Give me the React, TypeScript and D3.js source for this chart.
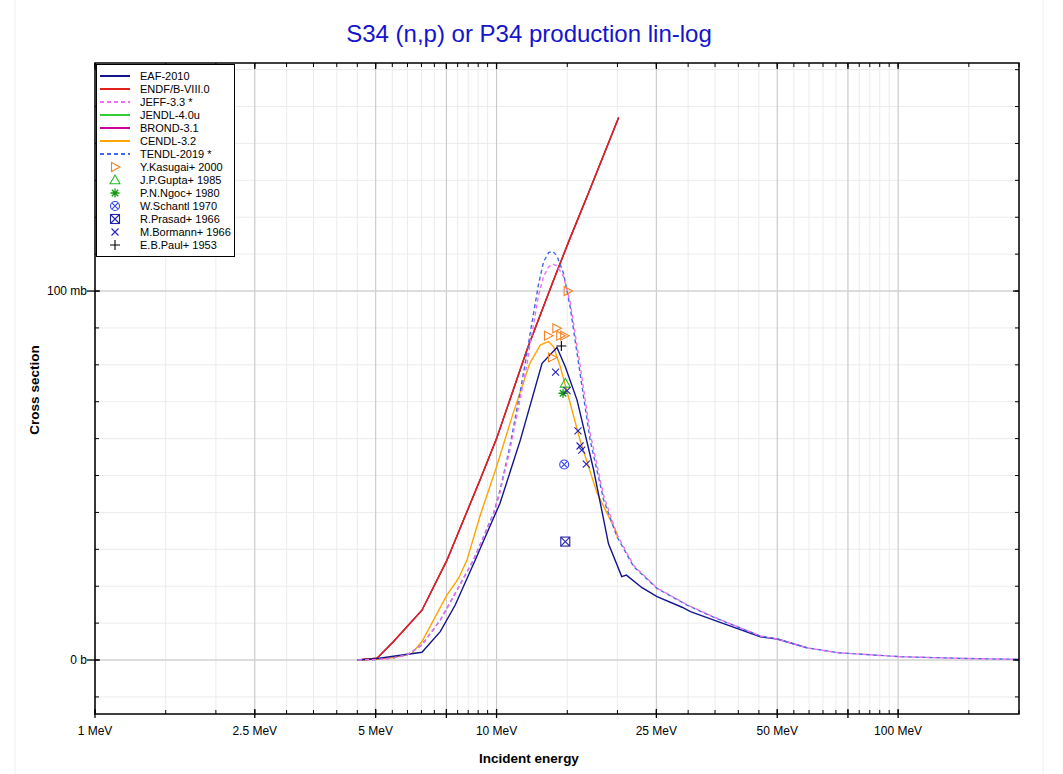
import * as React from "react";
import * as d3 from "d3";

// ---- data (energy in MeV, cross section in mb) ----
const endfE = [4.52, 5.04, 5.54, 6.52, 7.52, 9.11, 10, 11.9, 13.87, 15.2, 17, 20.14];
const endfXS = [0, 0.5, 5, 13.5, 27, 49, 60, 84, 103, 114, 127, 147];

const eafE = [4.5, 5.0, 6.52, 7.24, 7.89, 8.85, 9.11, 10.2, 11.46, 12.98, 14.14, 14.83, 15.86, 17.45, 19.0, 20.5, 21.05, 23.03, 25.1, 28.97, 30.4, 37.5, 45.4, 50, 59.4];
const eafXS = [0, 0.35, 2.1, 7.7, 14.9, 27.1, 30.3, 42.5, 59.6, 80.4, 84.7, 79.5, 70.5, 51.5, 31.5, 22.6, 23.0, 19.6, 17.2, 14.3, 13.1, 9.5, 6.3, 5.7, 3.3];

const tendlE = [4.52, 5.0, 5.5, 5.98, 6.52, 7.24, 7.81, 8.76, 9.83, 10.2, 10.8, 11.46, 11.9, 12.1, 12.73, 13.1, 13.48, 13.8, 14.14, 14.68, 15.25, 16.14, 17.1, 18.48, 19.95, 21.95, 25.1, 29.8, 34.7, 45.4, 50, 59.4, 70.5, 101, 150, 200];
const tendlXS = [0, 0.1, 0.5, 1.36, 4.1, 10.8, 17.2, 27.1, 39.8, 46, 58, 73, 83, 88, 102, 108, 110.4, 110.8, 109.5, 104.8, 95.7, 77.7, 59.6, 43.4, 33.4, 25.3, 19.4, 14.9, 11.6, 6.5, 5.7, 3.3, 2.0, 0.9, 0.4, 0.2];

const jeffE = [4.52, 5.0, 5.5, 5.98, 6.52, 7.24, 7.81, 8.76, 9.83, 10.2, 10.8, 11.46, 11.9, 12.1, 12.73, 13.1, 13.48, 13.8, 14.14, 14.68, 15.25, 16.14, 17.1, 18.48, 19.95, 21.95, 25.1, 29.8, 34.7, 45.4, 50, 59.4, 70.5, 101, 150, 200];
const jeffXS = [0, 0.1, 0.5, 1.36, 4.1, 10.8, 17.2, 27.1, 39.5, 45.5, 57, 71, 80, 85, 99, 104, 106.5, 107.3, 106.8, 104, 97, 80, 61.5, 44.5, 34, 25.6, 19.5, 15, 11.7, 6.5, 5.7, 3.3, 2.0, 0.9, 0.4, 0.2];

const cendlE = [4.52, 5.04, 5.5, 6.15, 6.52, 7.52, 8.04, 8.44, 9.11, 10.0, 11.0, 12.1, 12.86, 13.48, 13.87, 14.41, 15.25, 16.14, 17.8, 19.95, 20.0];
const cendlXS = [0, 0.2, 0.6, 1.8, 5.0, 17.6, 22.1, 27.1, 39.3, 52.4, 66.9, 80.4, 85.4, 86.3, 84.9, 79.5, 69.6, 59.6, 45.2, 34.3, 33];

const kasugaiE = [15.03, 14.09, 13.43, 14.41, 14.74, 13.74];
const kasugaiXS = [100.0, 89.9, 87.9, 87.9, 87.9, 82.0];
const guptaE = [14.83];
const guptaXS = [75.0];
const ngocE = [14.64];
const ngocXS = [72.3];
const schantlE = [14.74];
const schantlXS = [53.0];
const prasadE = [14.83];
const prasadXS = [32.1];
const bormannE = [14.03, 14.98, 15.95, 16.14, 16.3, 16.73];
const bormannXS = [78.0, 73.0, 62.1, 58.0, 56.9, 53.1];
const paulE = [14.5];
const paulXS = [85.1];

const xMajor = [1, 2.5, 5, 7.5, 10, 25, 50, 75, 100];
const xLabeled = [1, 2.5, 5, 10, 25, 50, 100];
const yLabels: [number, string][] = [[0, "0 b"], [100, "100 mb"]];

const FONT = "'Liberation Sans', Arial, sans-serif";
const W = 1063;
const H = 774;
const L = 95, R = 1019, T = 63, B = 714;

const x = d3.scaleLog().domain([1, 200]).range([L, R]);
const y = d3.scaleLinear().domain([-14.63, 161.8]).range([B, T]);

const xMinor: number[] = [];
[1, 10, 100].forEach((d) => {
  d3.range(1, 10, 0.5).forEach((m) => {
    const v = m * d;
    if (v <= 200) xMinor.push(v);
  });
});
const yMinor = d3.range(-10, 161, 10);

type Pt = [number, number];
const zip = (a: number[], b: number[]): Pt[] => a.map((e, i) => [e, b[i]]);
const line = d3.line<Pt>().x((d) => x(d[0])).y((d) => y(d[1]));

function Marker({ kind, cx, cy, color }: { kind: string; cx: number; cy: number; color: string }) {
  const sw = 1.1;
  if (kind === "triR")
    return <path d={`M${cx - 3.5},${cy - 4.5}L${cx + 5},${cy}L${cx - 3.5},${cy + 4.5}Z`} fill="none" stroke={color} strokeWidth={sw} />;
  if (kind === "triU")
    return <path d={`M${cx},${cy - 5}L${cx + 5},${cy + 3.8}L${cx - 5},${cy + 3.8}Z`} fill="none" stroke={color} strokeWidth={sw} />;
  if (kind === "star") {
    const r = 4.5, q = 3.2;
    return (
      <path d={`M${cx - r},${cy}H${cx + r}M${cx},${cy - r}V${cy + r}M${cx - q},${cy - q}L${cx + q},${cy + q}M${cx - q},${cy + q}L${cx + q},${cy - q}`} stroke={color} strokeWidth={1.3} />
    );
  }
  if (kind === "circX") {
    const q = 3.1;
    return (
      <g stroke={color} strokeWidth={sw} fill="none">
        <circle cx={cx} cy={cy} r={4.5} />
        <path d={`M${cx - q},${cy - q}L${cx + q},${cy + q}M${cx - q},${cy + q}L${cx + q},${cy - q}`} />
      </g>
    );
  }
  if (kind === "boxX") {
    const s = 4.5;
    return (
      <g stroke={color} strokeWidth={sw} fill="none">
        <rect x={cx - s} y={cy - s} width={2 * s} height={2 * s} />
        <path d={`M${cx - s},${cy - s}L${cx + s},${cy + s}M${cx - s},${cy + s}L${cx + s},${cy - s}`} />
      </g>
    );
  }
  if (kind === "x") {
    const q = 3.5;
    return <path d={`M${cx - q},${cy - q}L${cx + q},${cy + q}M${cx - q},${cy + q}L${cx + q},${cy - q}`} stroke={color} strokeWidth={sw} />;
  }
  const r = 5;
  return <path d={`M${cx - r},${cy}H${cx + r}M${cx},${cy - r}V${cy + r}`} stroke={color} strokeWidth={sw} />;
}

const curves = [
  { name: "EAF-2010", color: "#14148c", dash: "", e: eafE, v: eafXS },
  { name: "ENDF/B-VIII.0", color: "#e3201c", dash: "", e: endfE, v: endfXS },
  { name: "JEFF-3.3 *", color: "#f070f0", dash: "4,3", e: jeffE, v: jeffXS },
  { name: "JENDL-4.0u", color: "#33cc33", dash: "", e: endfE, v: endfXS },
  { name: "BROND-3.1", color: "#cc0099", dash: "", e: endfE, v: endfXS },
  { name: "CENDL-3.2", color: "#ffa500", dash: "", e: cendlE, v: cendlXS },
  { name: "TENDL-2019 *", color: "#4169e1", dash: "4,3", e: tendlE, v: tendlXS },
];

const exps = [
  { name: "Y.Kasugai+ 2000", color: "#f58220", kind: "triR", e: kasugaiE, v: kasugaiXS },
  { name: "J.P.Gupta+ 1985", color: "#22bb22", kind: "triU", e: guptaE, v: guptaXS },
  { name: "P.N.Ngoc+ 1980", color: "#119911", kind: "star", e: ngocE, v: ngocXS },
  { name: "W.Schantl 1970", color: "#3344ee", kind: "circX", e: schantlE, v: schantlXS },
  { name: "R.Prasad+ 1966", color: "#2222aa", kind: "boxX", e: prasadE, v: prasadXS },
  { name: "M.Bormann+ 1966", color: "#2222bb", kind: "x", e: bormannE, v: bormannXS },
  { name: "E.B.Paul+ 1953", color: "#000000", kind: "plus", e: paulE, v: paulXS },
];

// draw order: underlying duplicates first, ENDF on top of them
const drawOrder = ["JENDL-4.0u", "BROND-3.1", "ENDF/B-VIII.0", "CENDL-3.2", "EAF-2010", "TENDL-2019 *", "JEFF-3.3 *"];

export default function App() {
  const rowY = (i: number) => 76 + i * 13;
  return (
    <svg width={W} height={H} style={{ position: "absolute", left: 0, top: 0, background: "#fff" }} fontFamily={FONT}>
      <rect x={0} y={0} width={W} height={H} fill="#fff" />
      <line x1={15} x2={15} y1={0} y2={H} stroke="#f0f0f0" />
      <line x1={1043} x2={1043} y1={0} y2={H} stroke="#f0f0f0" />
      <defs>
        <clipPath id="plotclip">
          <rect x={L} y={T} width={R - L} height={B - T} />
        </clipPath>
      </defs>

      {/* grid */}
      {xMinor.map((v) => (
        <line key={"gx" + v} x1={x(v)} x2={x(v)} y1={T} y2={B} stroke="#ececec" />
      ))}
      {yMinor.map((v) => (
        <line key={"gy" + v} x1={L} x2={R} y1={y(v)} y2={y(v)} stroke="#ececec" />
      ))}
      {xMajor.map((v) => (
        <line key={"GX" + v} x1={x(v)} x2={x(v)} y1={T} y2={B} stroke="#c8c8c8" />
      ))}
      {yLabels.map(([v]) => (
        <line key={"GY" + v} x1={L} x2={R} y1={y(v)} y2={y(v)} stroke="#d4d4d4" strokeWidth={1.6} />
      ))}

      {/* curves */}
      <g clipPath="url(#plotclip)" fill="none">
        {drawOrder.map((n) => {
          const c = curves.find((k) => k.name === n)!;
          return (
            <path key={n} d={line(zip(c.e, c.v)) || ""} stroke={c.color} strokeWidth={1.4} strokeDasharray={c.dash || undefined} />
          );
        })}
      </g>

      {/* experimental points */}
      {exps.map((s) =>
        s.e.map((e, i) => <Marker key={s.name + i} kind={s.kind} cx={x(e)} cy={y(s.v[i])} color={s.color} />)
      )}

      {/* frame and ticks */}
      <rect x={L} y={T} width={R - L} height={B - T} fill="none" stroke="#000" strokeWidth={1.5} />
      {xMinor.map((v) => (
        <g key={"tx" + v} stroke="#000">
          <line x1={x(v)} x2={x(v)} y1={B} y2={B - 4} />
          <line x1={x(v)} x2={x(v)} y1={T} y2={T + 4} />
        </g>
      ))}
      {xMajor.map((v) => (
        <g key={"TX" + v} stroke="#000" strokeWidth={1.3}>
          <line x1={x(v)} x2={x(v)} y1={B - 5} y2={B + 4} />
          <line x1={x(v)} x2={x(v)} y1={T} y2={T + 6} />
        </g>
      ))}
      {yMinor.map((v) => (
        <g key={"ty" + v} stroke="#000">
          <line x1={L} x2={L + 4} y1={y(v)} y2={y(v)} />
          <line x1={R} x2={R - 4} y1={y(v)} y2={y(v)} />
        </g>
      ))}
      {yLabels.map(([v, t]) => (
        <g key={"ly" + v}>
          <line x1={L - 8} x2={L + 5} y1={y(v)} y2={y(v)} stroke="#000" strokeWidth={1.3} />
          <line x1={R - 6} x2={R} y1={y(v)} y2={y(v)} stroke="#000" strokeWidth={1.3} />
          <text x={L - 8} y={y(v) + 4} textAnchor="end" fontSize={12} fill="#000">
            {t}
          </text>
        </g>
      ))}
      {xLabeled.map((v) => (
        <text key={"lx" + v} x={x(v)} y={735} textAnchor="middle" fontSize={12} fill="#000">
          {`${v} MeV`}
        </text>
      ))}

      {/* titles */}
      <text x={529} y={42} textAnchor="middle" fontSize={24} fill="#1414cc">
        S34 (n,p) or P34 production lin-log
      </text>
      <text x={529} y={763} textAnchor="middle" fontSize={13.5} fontWeight="bold" fill="#000">
        Incident energy
      </text>
      <text transform="translate(39,390) rotate(-90)" textAnchor="middle" fontSize={13.5} fontWeight="bold" fill="#000">
        Cross section
      </text>

      {/* legend */}
      <rect x={96.5} y={64.5} width={138} height={192} fill="#fff" stroke="#000" strokeWidth={1} />
      {curves.map((c, i) => (
        <g key={"lg" + c.name}>
          <line x1={100} x2={130} y1={rowY(i)} y2={rowY(i)} stroke={c.color} strokeWidth={2} strokeDasharray={c.dash || undefined} />
          <text x={140} y={rowY(i) + 4} fontSize={11} fill="#000">
            {c.name}
          </text>
        </g>
      ))}
      {exps.map((s, j) => {
        const i = j + curves.length;
        return (
          <g key={"lge" + s.name}>
            <Marker kind={s.kind} cx={115} cy={rowY(i)} color={s.color} />
            <text x={140} y={rowY(i) + 4} fontSize={11} fill="#000">
              {s.name}
            </text>
          </g>
        );
      })}
    </svg>
  );
}
